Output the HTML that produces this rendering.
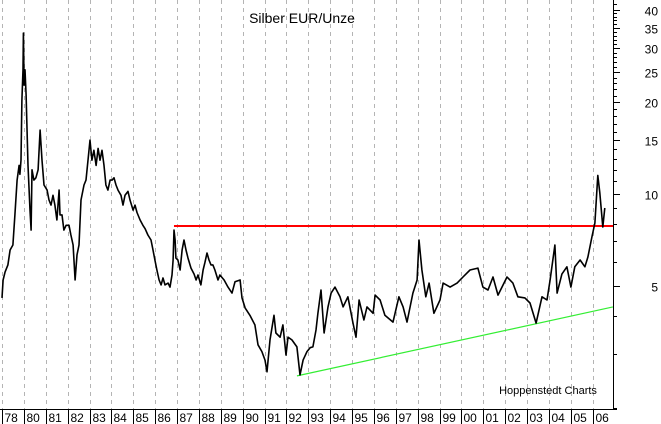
<!DOCTYPE html>
<html><head><meta charset="utf-8">
<style>
html,body{margin:0;padding:0;background:#fff;}
svg{display:block;font-family:"Liberation Sans",Arial,sans-serif;}
</style></head>
<body>
<svg id="chart" width="661" height="424" viewBox="0 0 661 424" xmlns="http://www.w3.org/2000/svg">
<g id="grid"></g>
<g id="xaxis"></g>
<g id="yaxis"></g>
<text x="302" y="23" font-size="14" text-anchor="middle" fill="#000">Silber EUR/Unze</text>
<text x="548" y="394" font-size="11" text-anchor="middle" fill="#000">Hoppenstedt Charts</text>
<g id="marks"></g>
</svg>
<script>
const yearLabels=["78","80","81","82","83","84","85","86","87","88","89","90","91","92","93","94","95","96","97","98","99","00","01","02","03","04","05","06"];
const yTickLabels=[40,35,30,25,20,15,10,5];
const yMinorTicks=[2,3,4,6,7,8,9,11,12,13,14,16,17,18,19,21,22,23,24,26,27,28,29,31,32,33,34,36,37,38,39,42,44];
const dates=[1979.00,1979.05,1979.14,1979.27,1979.37,1979.50,1979.59,1979.69,1979.78,1979.82,1979.87,1979.91,1979.96,1979.98,1980.01,1980.05,1980.10,1980.19,1980.28,1980.33,1980.37,1980.46,1980.55,1980.65,1980.74,1980.83,1980.92,1981.06,1981.15,1981.24,1981.33,1981.42,1981.51,1981.61,1981.65,1981.74,1981.83,1981.93,1982.06,1982.15,1982.25,1982.34,1982.43,1982.52,1982.61,1982.75,1982.84,1982.93,1983.02,1983.11,1983.20,1983.30,1983.39,1983.48,1983.57,1983.66,1983.75,1983.84,1983.94,1984.03,1984.12,1984.21,1984.30,1984.44,1984.53,1984.62,1984.76,1984.85,1984.99,1985.08,1985.17,1985.31,1985.44,1985.54,1985.67,1985.81,1985.90,1985.99,1986.08,1986.18,1986.27,1986.36,1986.45,1986.59,1986.68,1986.77,1986.82,1986.86,1986.91,1986.95,1987.04,1987.14,1987.23,1987.32,1987.41,1987.50,1987.64,1987.78,1987.87,1987.96,1988.09,1988.19,1988.28,1988.37,1988.46,1988.55,1988.64,1988.73,1988.87,1988.96,1989.15,1989.33,1989.51,1989.65,1989.88,1989.97,1990.11,1990.33,1990.56,1990.70,1990.88,1991.02,1991.11,1991.25,1991.43,1991.52,1991.71,1991.84,1991.98,1992.07,1992.25,1992.48,1992.62,1992.76,1992.94,1993.08,1993.21,1993.35,1993.44,1993.58,1993.72,1993.90,1994.04,1994.22,1994.45,1994.59,1994.81,1995.04,1995.18,1995.32,1995.54,1995.68,1995.96,1996.05,1996.28,1996.50,1996.87,1997.14,1997.33,1997.51,1997.65,1997.78,1997.97,1998.06,1998.19,1998.37,1998.52,1998.74,1999.02,1999.16,1999.48,1999.80,2000.07,2000.39,2000.75,2000.98,2001.21,2001.44,2001.67,2002.08,2002.35,2002.58,2002.90,2003.13,2003.41,2003.68,2003.91,2004.05,2004.27,2004.37,2004.59,2004.82,2005.00,2005.18,2005.42,2005.64,2005.78,2005.96,2006.10,2006.23,2006.32,2006.46,2006.55];
const prices=[4.57,5.23,5.56,5.86,6.56,6.81,8.54,11.1,12.4,11.6,12.9,20.3,25.5,33.6,22.7,25.5,21.1,12.4,8.86,7.62,12.0,11.1,11.3,12.0,16.2,12.9,10.7,10.3,9.56,9.2,9.9,9.2,8.22,10.3,8.54,8.54,7.62,7.9,7.9,7.34,6.81,5.23,6.32,6.81,9.56,10.7,11.1,12.9,15.0,12.9,13.9,12.4,14.1,12.9,13.9,12.4,10.7,10.3,11.1,11.1,11.3,10.7,10.3,9.9,9.2,9.9,10.2,9.56,8.86,9.2,8.7,8.22,7.9,7.7,7.34,7.07,6.56,6.08,5.64,5.23,5.04,5.31,5.04,5.11,4.96,5.43,6.08,7.62,7.07,6.17,6.08,5.64,6.56,7.07,6.56,6.17,5.72,5.47,5.23,5.43,5.04,5.64,5.98,6.41,6.08,5.86,5.86,5.64,5.23,5.43,5.23,4.96,4.74,5.16,5.23,4.57,4.24,4.01,3.73,3.21,3.05,2.86,2.62,3.33,4.01,3.51,3.40,3.73,2.97,3.40,3.33,3.16,2.56,2.86,3.05,3.14,3.16,3.59,4.07,4.85,3.51,4.27,4.74,4.96,4.61,4.27,4.61,3.78,3.40,4.50,3.87,4.27,4.07,4.67,4.50,4.01,3.81,4.61,4.27,3.81,4.27,4.74,5.23,7.07,5.64,4.61,5.11,4.07,4.50,5.11,4.96,5.11,5.35,5.64,5.72,4.96,4.85,5.35,4.67,5.35,5.11,4.61,4.57,4.40,3.78,4.61,4.50,5.23,6.81,4.74,5.47,5.78,4.96,5.78,6.08,5.78,6.22,7.23,8.04,11.5,10.1,7.8,9.0];
const resistance=[1986.86,2007.0,7.86];
const supportDates=[1992.48,2006.92];
const supportValues=[2.54,4.27];

const NS="http://www.w3.org/2000/svg";
function xOf(yr){return 2+(yr-1979)*21.88;}
function yOf(v){return 194-92*Math.log2(v/10);}
function mk(tag,attrs,parent){const e=document.createElementNS(NS,tag);for(const k in attrs)e.setAttribute(k,attrs[k]);parent.appendChild(e);return e;}
const grid=document.getElementById('grid'),xa=document.getElementById('xaxis'),ya=document.getElementById('yaxis'),marks=document.getElementById('marks');
const right=613,bottom=409;
yearLabels.forEach((lab,i)=>{
  const x=Math.round(xOf(1979+i))+0.5;
  const g=mk('line',{x1:x,y1:0,x2:x,y2:bottom,stroke:'#b4b4b4','stroke-width':1,'stroke-dasharray':'4,4'},grid);
  
  
  const s=mk('line',{x1:x,y1:bottom,x2:x,y2:424,stroke:'#000','stroke-width':1},xa);
  
  
  const t=mk('text',{x:x+2,y:422,'font-size':12,fill:'#000'},xa);
  t.textContent=lab;
  
  
});
const bl=mk('line',{x1:0,y1:bottom+0.5,x2:right+4,y2:bottom+0.5,stroke:'#000','stroke-width':1},xa);


const rl=mk('line',{x1:right+0.5,y1:0,x2:right+0.5,y2:bottom,stroke:'#000','stroke-width':1},ya);


yTickLabels.forEach(v=>{
  const y=Math.round(yOf(v))+0.5;
  const tk=mk('line',{x1:right,y1:y,x2:right+7,y2:y,stroke:'#000','stroke-width':1},ya);
  
  
  const t=mk('text',{x:658,y:y+5,'font-size':12,'text-anchor':'end',fill:'#000'},ya);
  t.textContent=String(v);
  
  
});
yMinorTicks.forEach(v=>{
  const y=Math.round(yOf(v))+0.5;
  if(y<0||y>bottom)return;
  const tk=mk('line',{x1:right,y1:y,x2:right+4,y2:y,stroke:'#000','stroke-width':1},ya);
  
  
});
const red=mk('line',{x1:xOf(resistance[0]),y1:yOf(resistance[2]),x2:Math.min(right,xOf(resistance[1])),y2:yOf(resistance[2]),stroke:'#ff0000','stroke-width':2},marks);


const green=mk('line',{x1:xOf(supportDates[0]),y1:yOf(supportValues[0]),x2:xOf(supportDates[1]),y2:yOf(supportValues[1]),stroke:'#33ee33','stroke-width':1.2},marks);


let d='';
dates.forEach((t,i)=>{d+=(i?'L':'M')+xOf(t).toFixed(1)+','+yOf(prices[i]).toFixed(1);});
const p=mk('path',{d:d,fill:'none',stroke:'#000','stroke-width':1.6,'stroke-linejoin':'round'},marks);


</script>
</body></html>
